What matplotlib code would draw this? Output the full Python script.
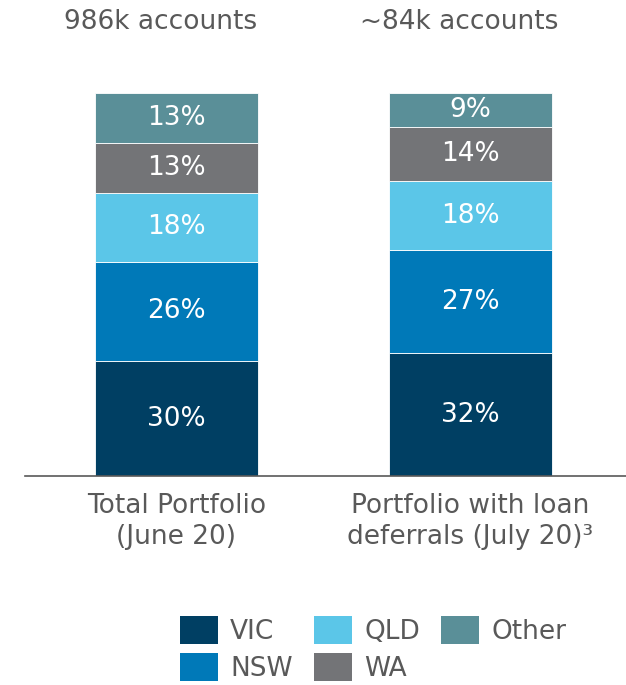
import numpy as np
import matplotlib.pyplot as plt
from matplotlib.patches import Patch

categories = ['Total Portfolio\n(June 20)', 'Portfolio with loan\ndeferrals (July 20)³']
headers = ['986k accounts', '~84k accounts']
states = ['VIC', 'NSW', 'QLD', 'WA', 'Other']
values = {
    'VIC': [30, 32],
    'NSW': [26, 27],
    'QLD': [18, 18],
    'WA': [13, 14],
    'Other': [13, 9],
}
colors = {
    'VIC': '#003f63',
    'NSW': '#0079b8',
    'QLD': '#5bc6e8',
    'WA': '#737477',
    'Other': '#5a8f98',
}
grey = '#595959'

fig = plt.figure(figsize=(6.26, 6.85), dpi=100)
ax = fig.add_axes([25 / 626, 1 - 476 / 685, 601 / 626, 383 / 685])

x = np.arange(len(categories))
bottom = np.zeros(len(categories))
for s in states:
    v = np.array(values[s])
    ax.bar(x, v, 0.555, bottom=bottom, color=colors[s], edgecolor='white', linewidth=0.6)
    for xi, b, vi in zip(x, bottom, v):
        ax.text(xi, b + vi / 2, f'{vi}%', ha='center', va='center', color='white', fontsize=19)
    bottom += v

ax.set_xlim(-0.516, 1.531)
ax.set_ylim(0, 100)
for sp in ['top', 'right', 'left']:
    ax.spines[sp].set_visible(False)
ax.spines['bottom'].set_color('#595959')
ax.spines['bottom'].set_linewidth(1.2)
ax.set_yticks([])
ax.set_xticks(x)
ax.set_xticklabels(categories, fontsize=19, color=grey, linespacing=1.25)
ax.tick_params(axis='x', length=0, pad=12)

for xi, off, h in zip(x, [-0.055, -0.038], headers):
    ax.text(xi + off, 1.185, h, transform=ax.get_xaxis_transform(), ha='center', va='center',
            fontsize=19, color=grey)

handles = [Patch(facecolor=colors[s], label=s) for s in states]
fig.legend(handles=handles, ncol=3, loc='center', bbox_to_anchor=(373 / 626, 1 - 649 / 685),
           frameon=False, fontsize=19, labelcolor=grey, handlelength=1.45, handleheight=1.25,
           handletextpad=0.45, columnspacing=0.8, labelspacing=0.3)

fig.savefig('out.png', dpi=100)
